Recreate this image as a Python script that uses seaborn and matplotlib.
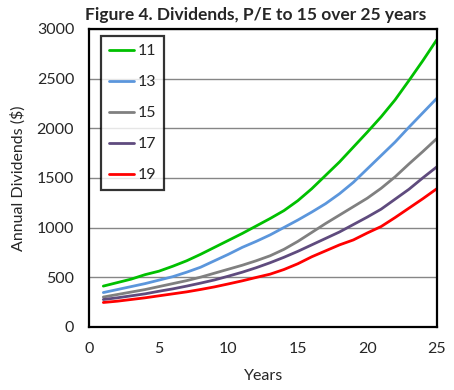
import pandas as pd
import numpy as np
import matplotlib.pyplot as plt
import seaborn as sns

years = list(range(1, 26))
pe_11 = [410, 445, 480, 525, 560, 610, 665, 730, 800, 870, 940, 1015, 1090, 1170, 1270,
         1390, 1525, 1660, 1810, 1960, 2115, 2285, 2480, 2680, 2890]
pe_13 = [345, 375, 405, 435, 470, 505, 550, 600, 665, 730, 800, 860, 925, 1000, 1075,
         1155, 1240, 1340, 1455, 1590, 1725, 1860, 2010, 2155, 2300]
pe_15 = [300, 325, 350, 375, 405, 435, 465, 500, 540, 580, 620, 665, 715, 780, 860,
         950, 1040, 1125, 1210, 1295, 1395, 1510, 1640, 1765, 1895]
pe_17 = [275, 292, 312, 332, 358, 382, 410, 440, 472, 510, 550, 595, 645, 700, 760,
         825, 890, 955, 1030, 1105, 1185, 1285, 1385, 1500, 1610]
pe_19 = [245, 258, 275, 292, 312, 332, 352, 376, 402, 432, 463, 497, 530, 577, 635,
         705, 765, 825, 875, 945, 1010, 1100, 1195, 1290, 1390]
series_names = ['11', '13', '15', '17', '19']
colors = ['#00C000', '#5B96DC', '#808080', '#5F4B7E', '#FF0000']

sns.set_style('white')
plt.rcParams['font.family'] = ['Lato', 'DejaVu Sans']

df = pd.DataFrame({
    'Years': years * 5,
    'Dividends': pe_11 + pe_13 + pe_15 + pe_17 + pe_19,
    'PE': [n for n in series_names for _ in years],
})

fig, ax = plt.subplots(figsize=(4.54, 3.90), dpi=100)
fig.subplots_adjust(left=0.197, right=0.962, top=0.926, bottom=0.162)

sns.lineplot(data=df, x='Years', y='Dividends', hue='PE', hue_order=series_names,
             palette=dict(zip(series_names, colors)), linewidth=2, ax=ax)

ax.set_xlim(0, 25)
ax.set_ylim(0, 3000)
ax.set_xticks(range(0, 26, 5))
ax.set_yticks(range(0, 3001, 500))
ax.yaxis.grid(True, color='#868686', linewidth=1)
ax.xaxis.grid(False)
ax.set_axisbelow(True)
for s in ax.spines.values():
    s.set_color('black')
    s.set_linewidth(1.6)
ax.tick_params(axis='both', direction='out', length=5, width=1.5, color='black',
               labelsize=11.5, pad=6)

ax.set_xlabel('Years', fontsize=11.5, labelpad=9)
ax.set_ylabel('Annual Dividends ($)', fontsize=11.5, labelpad=8)
fig.text(256 / 454, 0.962, 'Figure 4. Dividends, P/E to 15 over 25 years',
         ha='center', va='center', fontsize=12.5, fontweight='bold')

# legend box in the top left corner, square black frame
leg = ax.legend(loc='upper left', bbox_to_anchor=(0.033, 0.975), borderaxespad=0,
                frameon=True, fancybox=False, edgecolor='black', fontsize=11.5,
                handlelength=1.55, labelspacing=1.05, handletextpad=0.25, borderpad=0.5)
leg.get_frame().set_linewidth(1.6)

plt.savefig('out.png', dpi=100)
